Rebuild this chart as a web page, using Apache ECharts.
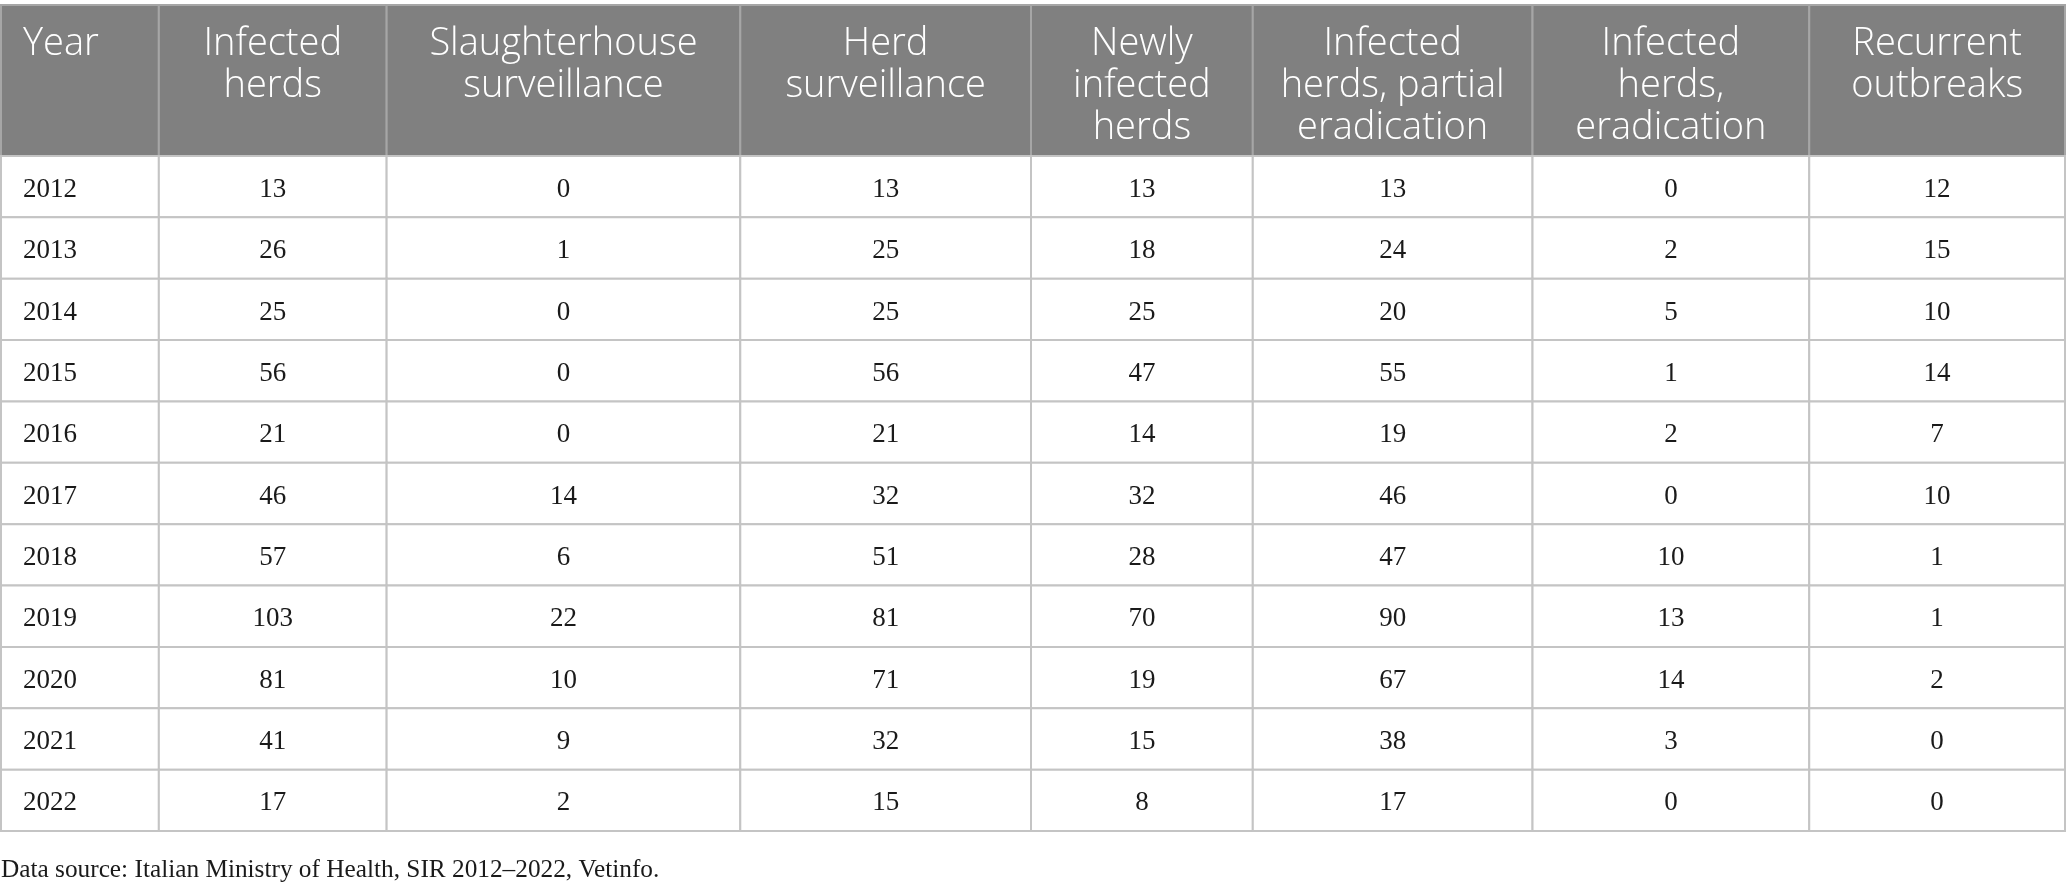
<!DOCTYPE html>
<html>
<head>
<meta charset="utf-8">
<script src="https://cdn.jsdelivr.net/npm/echarts@6/dist/echarts.min.js"></script>
<style>
  html, body { margin: 0; padding: 0; background: #fff; }
  #chart { width: 2068px; height: 883px; }
</style>
</head>
<body>
<div id="chart"></div>
<script>
// table data
const years = ['2012', '2013', '2014', '2015', '2016', '2017', '2018', '2019', '2020', '2021', '2022'];
const infectedHerds = [13, 26, 25, 56, 21, 46, 57, 103, 81, 41, 17];
const slaughterhouse = [0, 1, 0, 0, 0, 14, 6, 22, 10, 9, 2];
const herdSurveillance = [13, 25, 25, 56, 21, 32, 51, 81, 71, 32, 15];
const newlyInfected = [13, 18, 25, 47, 14, 32, 28, 70, 19, 15, 8];
const partialEradication = [13, 24, 20, 55, 19, 46, 47, 90, 67, 38, 17];
const eradication = [0, 2, 5, 1, 2, 0, 10, 13, 14, 3, 0];
const recurrent = [12, 15, 10, 14, 7, 10, 1, 1, 2, 0, 0];
const headers = [
    'Year',
    'Infected\nherds',
    'Slaughterhouse\nsurveillance',
    'Herd\nsurveillance',
    'Newly\ninfected\nherds',
    'Infected\nherds, partial\neradication',
    'Infected\nherds,\neradication',
    'Recurrent\noutbreaks'
];
const source = 'Data source: Italian Ministry of Health, SIR 2012\u20132022, Vetinfo.';

// column widths in px (layout only)
const colWidths = [158, 228, 354, 291, 222, 280, 277, 256];
const colEdges = [0];
colWidths.forEach(w => colEdges.push(colEdges[colEdges.length - 1] + w));
const tableWidth = colEdges[colEdges.length - 1];

const columns = [years, infectedHerds, slaughterhouse, herdSurveillance,
    newlyInfected, partialEradication, eradication, recurrent];

const bodyCells = [];
years.forEach((y, r) => {
    columns.forEach((col, c) => bodyCells.push([c, r, String(col[r])]));
});
const headerCells = headers.map((h, c) => [c, 0, h]);

const lineColor = '#c4c4c4';

function cellRect(api) {
    const c = api.value(0);
    const r = api.value(1);
    const p0 = api.coord([colEdges[c], r]);
    const p1 = api.coord([colEdges[c + 1], r]);
    const h = api.size([0, 1])[1];
    return { x: p0[0], y: p0[1] - h / 2, width: p1[0] - p0[0], height: h };
}

function renderBody(params, api) {
    const rect = cellRect(api);
    const c = api.value(0);
    const text = bodyCells[params.dataIndex][2];
    return {
        type: 'group',
        children: [{
            type: 'rect',
            shape: rect,
            style: { fill: '#fff', stroke: lineColor, lineWidth: 2 }
        }, {
            type: 'text',
            style: {
                text: text,
                x: c === 0 ? rect.x + 22 : rect.x + rect.width / 2,
                y: rect.y + rect.height / 2 + 3,
                align: c === 0 ? 'left' : 'center',
                verticalAlign: 'middle',
                fill: '#1a1a1a',
                font: '27px "Liberation Serif", "DejaVu Serif", serif'
            }
        }]
    };
}

function renderHeader(params, api) {
    const rect = cellRect(api);
    const c = api.value(0);
    const text = headerCells[params.dataIndex][2];
    return {
        type: 'group',
        children: [{
            type: 'rect',
            shape: rect,
            style: { fill: '#808080', stroke: '#a6a6a6', lineWidth: 2 }
        }, {
            type: 'text',
            style: {
                text: text,
                x: c === 0 ? rect.x + 22 : rect.x + rect.width / 2,
                y: rect.y + 18,
                align: c === 0 ? 'left' : 'center',
                verticalAlign: 'top',
                lineHeight: 42,
                fill: '#ffffff',
                font: '350 38px "Open Sans", "Noto Sans", sans-serif'
            }
        }]
    };
}

const chart = echarts.init(document.getElementById('chart'));
const hiddenAxis = { show: false };

chart.setOption({
    animation: false,
    title: {
        text: source,
        left: 1,
        top: 858,
        padding: 0,
        textStyle: {
            fontFamily: '"Liberation Serif", "DejaVu Serif", serif',
            fontSize: 25.3,
            fontWeight: 'normal',
            color: '#1a1a1a'
        }
    },
    grid: [
        { left: 1, top: 5, width: tableWidth - 2, height: 151 },
        { left: 1, top: 156, width: tableWidth - 2, height: 675 }
    ],
    xAxis: [
        { type: 'value', gridIndex: 0, min: 0, max: tableWidth, ...hiddenAxis },
        { type: 'value', gridIndex: 1, min: 0, max: tableWidth, ...hiddenAxis }
    ],
    yAxis: [
        { type: 'category', gridIndex: 0, data: ['header'], inverse: true, ...hiddenAxis },
        { type: 'category', gridIndex: 1, data: years, inverse: true, ...hiddenAxis }
    ],
    series: [
        {
            type: 'custom',
            xAxisIndex: 0,
            yAxisIndex: 0,
            data: headerCells.map(d => [d[0], d[1]]),
            renderItem: renderHeader,
            silent: true
        },
        {
            type: 'custom',
            xAxisIndex: 1,
            yAxisIndex: 1,
            data: bodyCells.map(d => [d[0], d[1]]),
            renderItem: renderBody,
            silent: true
        }
    ]
});
</script>
</body>
</html>
